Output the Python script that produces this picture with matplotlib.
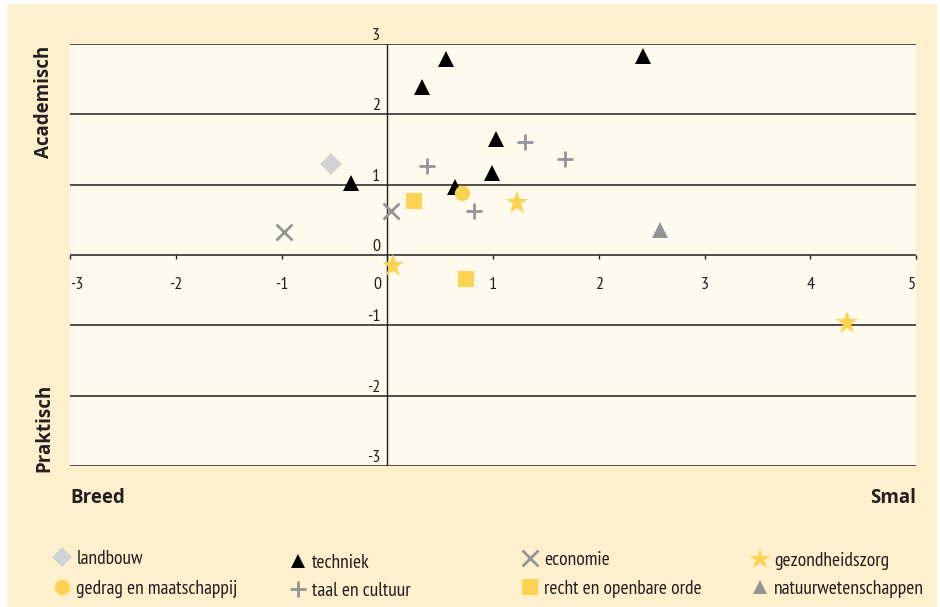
import matplotlib
matplotlib.use("Agg")
import matplotlib.pyplot as plt
from matplotlib.patches import Rectangle
from matplotlib.lines import Line2D
import matplotlib.transforms as mtransforms

NARROW = ['PT Sans Narrow', 'Open Sans Condensed', 'Liberation Sans', 'DejaVu Sans']
WIDE = ['Open Sans', 'Liberation Sans', 'DejaVu Sans']
plt.rcParams['font.family'] = NARROW

# ---- data ----
landbouw_x = [-0.53]
landbouw_y = [1.29]
techniek_x = [0.56, 0.33, 2.42, 1.03, 0.99, 0.64, -0.34]
techniek_y = [2.79, 2.39, 2.83, 1.65, 1.16, 0.97, 1.02]
economie_x = [-0.98, 0.04]
economie_y = [0.33, 0.63]
gezondheid_x = [1.23, 0.05, 4.35]
gezondheid_y = [0.74, -0.16, -0.97]
gedrag_x = [0.71]
gedrag_y = [0.88]
taal_x = [1.30, 1.68, 0.38, 0.82]
taal_y = [1.61, 1.37, 1.27, 0.62]
recht_x = [0.25, 0.74]
recht_y = [0.77, -0.34]
natuur_x = [2.58]
natuur_y = [0.36]

x_ticks = [-3, -2, -1, 0, 1, 2, 3, 4, 5]
y_ticks = [-3, -2, -1, 0, 1, 2, 3]

OUTER = '#FEF0CD'
INNER = '#FFFAED'
YELLOW = '#FFD352'
GRAY = '#939598'
LGRAY = '#D1D3D4'
LINE = '#231F20'

W, H = 940, 607
fig = plt.figure(figsize=(W / 100, H / 100), dpi=100)
fig.patch.set_facecolor('white')
fig.patches.append(Rectangle((7 / W, 0), (937 - 7) / W, (H - 4) / H,
                             transform=fig.transFigure, facecolor=OUTER,
                             edgecolor='none', zorder=-10))

ax = fig.add_axes([70 / W, 1 - 466 / H, 846 / W, 422 / H])
ax.set_zorder(2)
ax.set_facecolor(INNER)
ax.set_xlim(-3, 5)
ax.set_ylim(-3, 3)
for s in ax.spines.values():
    s.set_visible(False)
ax.set_xticks([])
ax.set_yticks([])

for yv in y_ticks:
    ax.axhline(yv, color=LINE, lw=1.1, zorder=1)
ax.axvline(0, color=LINE, lw=1.0, zorder=1)

ax.plot(x_ticks, [0] * len(x_ticks), linestyle='none', marker=3,
        markersize=3, color=LINE, mew=1.0, zorder=1, clip_on=False)

for i, xv in enumerate(x_ticks):
    ha = 'center'
    dx = 0
    if i == 0:
        ha = 'left'
    elif i == len(x_ticks) - 1:
        ha = 'right'
    elif xv == 0:
        dx = -10
    tr = mtransforms.offset_copy(ax.transData, fig=fig, x=dx, y=-30, units='dots')
    ax.text(xv, 0, str(xv), ha=ha, va='center', fontsize=13, transform=tr,
            color=LINE)

for yv in y_ticks:
    tr = mtransforms.offset_copy(ax.transData, fig=fig, x=-7, y=4, units='dots')
    ax.text(0, yv, str(yv), ha='right', va='baseline', fontsize=13,
            transform=tr, color=LINE)

ax.plot(landbouw_x, landbouw_y, 'D', color=LGRAY, ms=11, mew=0, zorder=3)
ax.plot(techniek_x, techniek_y, '^', color='black', ms=11, mew=0, zorder=3)
ax.plot(economie_x, economie_y, 'x', color=GRAY, ms=12, mew=2, zorder=3)
ax.plot(gezondheid_x, gezondheid_y, '*', color=YELLOW, ms=17, mew=0, zorder=3)
ax.plot(gedrag_x, gedrag_y, 'o', color=YELLOW, ms=11, mew=0, zorder=4)
ax.plot(taal_x, taal_y, '+', color=GRAY, ms=11.5, mew=2, zorder=3)
ax.plot(recht_x, recht_y, 's', color=YELLOW, ms=11.5, mew=0, zorder=3)
ax.plot(natuur_x, natuur_y, '^', color=GRAY, ms=11, mew=0, zorder=3)

fig.text(44 / W, 1 - 102 / H, 'Academisch', rotation=90, ha='center',
         va='center', fontsize=13.5, fontweight='bold', color=LINE, family=WIDE)
fig.text(44 / W, 1 - 428 / H, 'Praktisch', rotation=90, ha='center',
         va='center', fontsize=13.5, fontweight='bold', color=LINE, family=WIDE)
fig.text(70 / W, 1 - 503 / H, 'Breed', ha='left', va='baseline',
         fontsize=13.5, fontweight='bold', color=LINE, family=WIDE)
fig.text(916 / W, 1 - 503 / H, 'Smal', ha='right', va='baseline',
         fontsize=13.5, fontweight='bold', color=LINE, family=WIDE)

def mk(marker, color, ms, mew=0):
    return Line2D([], [], linestyle='none', marker=marker, color=color,
                  markersize=ms, markeredgewidth=mew)

cols = [
    ([mk('D', LGRAY, 10), mk('o', YELLOW, 11)],
     ['landbouw', 'gedrag en maatschappij'], 54, 550, 0.6),
    ([mk('^', 'black', 10), mk('+', GRAY, 11, 2)],
     ['techniek', 'taal en cultuur'], 290, 554, 0.5),
    ([mk('x', GRAY, 11, 2), mk('s', YELLOW, 11)],
     ['economie', 'recht en openbare orde'], 522, 551, 0.55),
    ([mk('*', YELLOW, 16), mk('^', GRAY, 10)],
     ['gezondheidszorg', 'natuurwetenschappen'], 752, 552, 0.5),
]
for handles, labels, lx, ly, sp in cols:
    leg = fig.legend(handles, labels, loc='upper left',
                     bbox_to_anchor=(lx / W, 1 - ly / H), frameon=False,
                     fontsize=14, handlelength=0.85, handletextpad=0.3,
                     borderpad=0, borderaxespad=0, labelspacing=sp)
    for t in leg.get_texts():
        t.set_color(LINE)

fig.savefig('out.png', dpi=100)
